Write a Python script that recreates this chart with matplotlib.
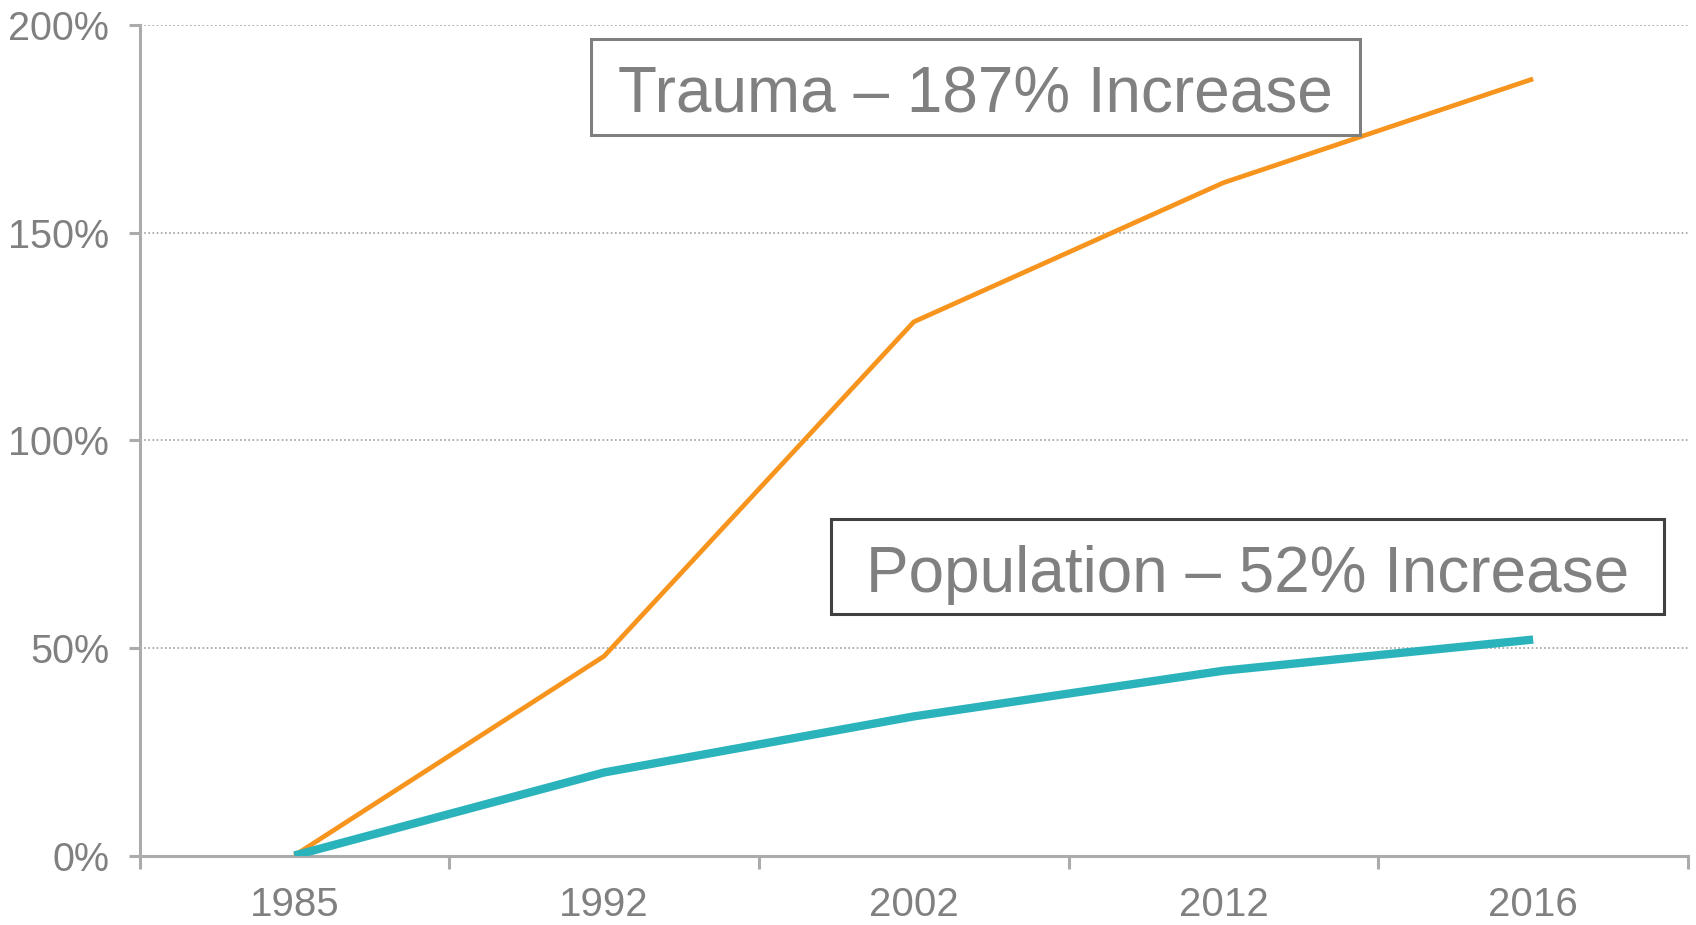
import numpy as np
import matplotlib.pyplot as plt
from matplotlib.patches import Rectangle

plt.rcParams['font.family'] = ['Liberation Sans', 'DejaVu Sans']

years = ['1985', '1992', '2002', '2012', '2016']
trauma = [0, 48, 128.5, 162, 187]
population = [0, 20, 33.5, 44.5, 52]
yticks = [0, 50, 100, 150, 200]

grey = '#808080'
axis_grey = '#ababab'

fig = plt.figure(figsize=(16.96, 9.25), dpi=100)
ax = fig.add_axes([0.0823, 0.0751, 0.9130, 0.898])

x = np.arange(len(years))
ax.plot(x, trauma, color='#F7941D', lw=3.4, solid_capstyle='butt', zorder=3)
ax.plot(x, population, color='#2BB3BB', lw=6, solid_capstyle='butt', zorder=3)

ax.set_xlim(-0.5, len(years) - 0.5)
ax.set_ylim(0, 200)

# category labels in the middle, ticks at the category borders
ax.set_xticks(x)
ax.set_xticklabels(years)
ax.set_xticks(np.arange(-0.5, len(years)), minor=True)
ax.tick_params(axis='x', which='major', length=0, pad=22, labelsize=29, labelcolor=grey)
ax.tick_params(axis='x', which='minor', length=9, width=2.2, color=axis_grey, direction='out')

ax.set_yticks(yticks)
ax.set_yticklabels([f'{v}%' for v in yticks])
ax.tick_params(axis='y', length=8, width=2.2, color=axis_grey, labelsize=28.5,
               labelcolor=grey, pad=14)

ax.yaxis.grid(True, linestyle=(0, (1, 1.5)), color='#a0a0a0', lw=1.2)
ax.set_axisbelow(True)

for s in ['top', 'right']:
    ax.spines[s].set_visible(False)
for s in ['left', 'bottom']:
    ax.spines[s].set_color(axis_grey)
    ax.spines[s].set_linewidth(2.2)

# label boxes
ax.add_patch(Rectangle((0.2913, 0.8672), 0.4966, 0.1159, transform=ax.transAxes,
                       fc='white', ec='#7f7f7f', lw=2.2, zorder=4))
ax.text(0.5396, 0.8945, 'Trauma \u2013 187% Increase', transform=ax.transAxes,
        ha='center', va='baseline', fontsize=46, color=grey, zorder=5)

ax.add_patch(Rectangle((0.4464, 0.2903), 0.5378, 0.1146, transform=ax.transAxes,
                       fc='white', ec='#404040', lw=2.2, zorder=4))
ax.text(0.7155, 0.3177, 'Population \u2013 52% Increase', transform=ax.transAxes,
        ha='center', va='baseline', fontsize=46, color=grey, zorder=5)

fig.savefig('out.png', dpi=100)
